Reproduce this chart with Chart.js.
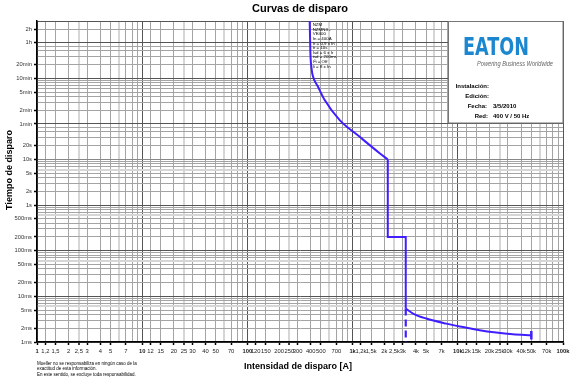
<!DOCTYPE html>
<html>
<head>
<meta charset="utf-8">
<script src="https://cdn.jsdelivr.net/npm/chart.js@4.4.1/dist/chart.umd.min.js"></script>
<style>
    html, body { margin: 0; padding: 0; background: #fff; }
    #wrap { width: 579px; height: 377px; }
</style>
</head>
<body>
<div id="wrap"><canvas id="tripChart"></canvas></div>
<script>
// current in A, time in s
const thermal_current = [391, 397, 409, 421, 469, 543, 754, 1168, 1808, 2160];
const thermal_time = [10800, 2143, 908, 647, 391, 200, 72.8, 31.3, 13.7, 10];
const step_current = [2160, 2160, 3200, 3200];
const step_time = [10, 0.2, 0.2, 0.0054];
const inst_current = [3200, 3749, 5020, 7780, 11170, 16110, 23210, 33360, 50000];
const inst_time = [0.0054, 0.0042, 0.00326, 0.00253, 0.00213, 0.00181, 0.00161, 0.00148, 0.0014];
const dash_current = [3200, 3200];
const dash_time = [0.0054, 0.001];
const end_current = [50000, 50000];
const end_time = [0.00174, 0.00113];

const x_tick_values = [1, 1.2, 1.5, 2, 2.5, 3, 4, 5, 7, 10, 12, 15, 20, 25, 30, 40, 50, 70,
    100, 120, 150, 200, 250, 300, 400, 500, 700, 1000, 1200, 1500, 2000, 2500, 3000, 4000, 5000, 7000,
    10000, 12000, 15000, 20000, 25000, 30000, 40000, 50000, 70000, 100000];
const x_tick_labels = ["1", "1,2", "1,5", "2", "2,5", "3", "4", "5", "7", "10", "12", "15", "20", "25", "30", "40", "50", "70",
    "100", "120", "150", "200", "250", "300", "400", "500", "700", "1k", "1,2k", "1,5k", "2k", "2,5k", "3k", "4k", "5k", "7k",
    "10k", "12k", "15k", "20k", "25k", "30k", "40k", "50k", "70k", "100k"];
const y_tick_values = [0.001, 0.002, 0.005, 0.01, 0.02, 0.05, 0.1, 0.2, 0.5, 1, 2, 5, 10, 20, 60, 120, 300, 600, 1200, 3600, 7200];
const y_tick_labels = ["1ms", "2ms", "5ms", "10ms", "20ms", "50ms", "100ms", "200ms", "500ms", "1s", "2s", "5s", "10s", "20s",
    "1min", "2min", "5min", "10min", "20min", "1h", "2h"];

const info_lines = ["NZM", "NZMN3 -", "VE400", "In = 400A", "Ir = 0,9 x In", "tr = 10s", "Isd = 6 x Ir",
    "tsd = 200ms", "I²t = Off", "Ii = 8 x In"];
const footnote_lines = ["Moeller no se responsabiliza en ningún caso de la",
    "exactitud de esta información.",
    "En este sentido, se excluye toda responsabilidad."];

const FONT = "'Liberation Sans', Arial, sans-serif";
const CURVE_COLOR = "#3f1fff";

function points(xs, ys) {
    return xs.map((x, i) => ({ x: x, y: ys[i] }));
}

function same(a, b) {
    return Math.abs(Math.log10(a / b)) < 1e-6;
}

function labelFor(values, labels, v) {
    const i = values.findIndex((t) => same(t, v));
    return i < 0 ? "" : labels[i];
}

function isDecade(v) {
    const l = Math.log10(v);
    return Math.abs(l - Math.round(l)) < 1e-6;
}

// grid line positions
const x_grid = [];
for (let d = 0; d < 5; d++) {
    [1, 1.2, 1.5, 2, 2.5, 3, 4, 5, 6, 7, 8, 9].forEach((m) => x_grid.push(m * Math.pow(10, d)));
}
x_grid.push(100000);

const y_grid = [];
for (let d = -3; d < 1; d++) {
    for (let m = 1; m <= 9; m++) y_grid.push(m * Math.pow(10, d));
}
[10, 20, 30, 40, 50].forEach((s) => y_grid.push(s));
for (let m = 1; m <= 10; m++) y_grid.push(m * 60);
[20, 30, 40, 50, 60, 120, 180].forEach((m) => y_grid.push(m * 60));

function mantissa(v) {
    return v / Math.pow(10, Math.floor(Math.log10(v) + 1e-9));
}

function xGridColor(v) {
    if (isDecade(v)) return "#555";
    const m = mantissa(v);
    if (Math.abs(m - 2.5) < 1e-6 || Math.abs(m - 6) < 1e-6) return "#d6d6d6";
    return "#a4a4a4";
}

function yGridColor(v) {
    if ([0.001, 0.01, 0.1, 1, 60, 600, 3600, 10800].some((t) => same(t, v))) return "#555";
    if (same(v, 10)) return "#888";
    const m = mantissa(v);
    if (v < 10 && Math.abs(m - 6) < 1e-6) return "#d6d6d6";
    return "#a4a4a4";
}

function fitText(ctx, text, x, y, width) {
    const w = ctx.measureText(text).width;
    ctx.save();
    ctx.translate(x, y);
    ctx.scale(width / w, 1);
    ctx.fillText(text, 0, 0);
    ctx.restore();
}

const textPlugin = {
    id: "textPlugin",
    afterDraw(chart) {
        const ctx = chart.ctx;
        ctx.save();
        ctx.fillStyle = "#000";
        ctx.textBaseline = "middle";

        ctx.font = "bold 11px " + FONT;
        ctx.textAlign = "center";
        ctx.fillText("Curvas de disparo", 300, 9);

        ctx.font = "bold 9px " + FONT;
        ctx.fillText("Intensidad de disparo [A]", 298, 366.5);

        ctx.save();
        ctx.translate(10, 170);
        ctx.rotate(-Math.PI / 2);
        ctx.fillText("Tiempo de disparo", 0, 0);
        ctx.restore();

        ctx.textAlign = "left";
        ctx.font = "4.5px " + FONT;
        footnote_lines.forEach((line, i) => ctx.fillText(line, 37, 363.3 + i * 5.6));

        ctx.font = "4.4px " + FONT;
        info_lines.forEach((line, i) => ctx.fillText(line, 312.7, 25 + i * 4.6));

        // logo box
        ctx.fillStyle = "#fff";
        ctx.fillRect(448, 21, 115, 102);
        ctx.strokeStyle = "#777";
        ctx.lineWidth = 1;
        ctx.strokeRect(448.5, 21.5, 114.5, 101.5);

        ctx.fillStyle = "#1b87d0";
        ctx.font = "bold 25px 'DejaVu Sans', " + FONT;
        ctx.textBaseline = "alphabetic";
        fitText(ctx, "EATON", 463, 55, 66);

        ctx.fillStyle = "#666";
        ctx.font = "italic 7px " + FONT;
        fitText(ctx, "Powering Business Worldwide", 477, 66, 76);

        ctx.fillStyle = "#000";
        ctx.font = "bold 6px " + FONT;
        ctx.textBaseline = "middle";
        ctx.textAlign = "right";
        ctx.fillText("Instalación:", 489, 86);
        ctx.fillText("Edición:", 489, 96);
        ctx.fillText("Fecha:", 487, 106);
        ctx.fillText("Red:", 488, 116);
        ctx.textAlign = "left";
        ctx.fillText("3/5/2010", 493, 106);
        ctx.fillText("400 V / 50 Hz", 493, 116);
        ctx.restore();
    },
};

function lineSet(data, extra) {
    return Object.assign({
        data: data,
        borderColor: CURVE_COLOR,
        borderWidth: 2,
        pointRadius: 0,
        fill: false,
        tension: 0,
    }, extra || {});
}

new Chart(document.getElementById("tripChart"), {
    type: "line",
    data: {
        datasets: [
            lineSet(points(thermal_current, thermal_time), { cubicInterpolationMode: "monotone" }),
            lineSet(points(step_current, step_time)),
            lineSet(points(inst_current, inst_time), { cubicInterpolationMode: "monotone" }),
            lineSet(points(dash_current, dash_time), { borderDash: [7, 4], borderWidth: 2.2 }),
            lineSet(points(end_current, end_time), { borderWidth: 2.5 }),
        ],
    },
    options: {
        responsive: true,
        maintainAspectRatio: false,
        animation: false,
        layout: { padding: { top: 21, right: 16, left: 0, bottom: 0 } },
        plugins: {
            legend: { display: false },
            tooltip: { enabled: false },
        },
        scales: {
            x: {
                type: "logarithmic",
                min: 1,
                max: 100000,
                afterBuildTicks: (scale) => {
                    scale.ticks = x_grid.map((v) => ({ value: v }));
                },
                afterFit: (scale) => {
                    scale.height = 35;
                },
                ticks: {
                    autoSkip: false,
                    maxRotation: 0,
                    minRotation: 0,
                    padding: 3,
                    color: "#222",
                    font: (ctx) => ({
                        family: FONT,
                        size: 5.8,
                        weight: ctx.tick && isDecade(ctx.tick.value) ? "bold" : "normal",
                    }),
                    callback: (v) => labelFor(x_tick_values, x_tick_labels, v),
                },
                grid: {
                    color: (ctx) => xGridColor(ctx.tick.value),
                    lineWidth: (ctx) => (xGridColor(ctx.tick.value) === "#d6d6d6" ? 2 : 1),
                    tickLength: 3,
                    tickColor: (ctx) => (labelFor(x_tick_values, x_tick_labels, ctx.tick.value) ? "#000" : "rgba(0,0,0,0)"),
                    tickWidth: 1.5,
                },
                border: { color: "#000", width: 1.5 },
            },
            y: {
                type: "logarithmic",
                min: 0.001,
                max: 10800,
                afterBuildTicks: (scale) => {
                    scale.ticks = y_grid.map((v) => ({ value: v }));
                },
                afterFit: (scale) => {
                    scale.width = 37;
                },
                ticks: {
                    autoSkip: false,
                    padding: 2,
                    color: "#333",
                    font: { family: FONT, size: 5.8 },
                    callback: (v) => labelFor(y_tick_values, y_tick_labels, v),
                },
                grid: {
                    color: (ctx) => yGridColor(ctx.tick.value),
                    lineWidth: (ctx) => (yGridColor(ctx.tick.value) === "#d6d6d6" ? 2 : 1),
                    tickLength: 3,
                    tickColor: (ctx) => (labelFor(y_tick_values, y_tick_labels, ctx.tick.value) ? "#000" : "rgba(0,0,0,0)"),
                    tickWidth: 1.5,
                },
                border: { color: "#000", width: 1.5 },
            },
        },
    },
    plugins: [textPlugin],
});
</script>
</body>
</html>
